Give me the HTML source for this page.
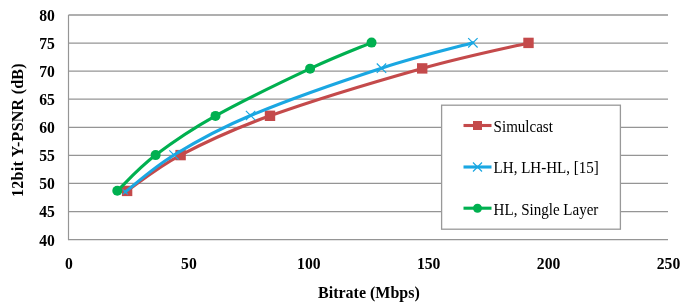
<!DOCTYPE html>
<html><head><meta charset="utf-8"><style>
html,body{margin:0;padding:0;background:#fff;overflow:hidden;}
svg{display:block;}
.tick{font-family:"Liberation Serif",serif;font-weight:bold;font-size:17.6px;fill:#000;}
.title{font-family:"Liberation Serif",serif;font-weight:bold;font-size:16px;fill:#000;}
.leg{font-family:"Liberation Serif",serif;font-size:16px;fill:#000;}
</style></head><body>
<svg width="685" height="308" viewBox="0 0 685 308" style="will-change:transform">
<line x1="68.5" y1="15.00" x2="668" y2="15.00" stroke="#959595" stroke-width="1.3"/>
<line x1="68.5" y1="43.08" x2="668" y2="43.08" stroke="#959595" stroke-width="1.3"/>
<line x1="68.5" y1="71.15" x2="668" y2="71.15" stroke="#959595" stroke-width="1.3"/>
<line x1="68.5" y1="99.22" x2="668" y2="99.22" stroke="#959595" stroke-width="1.3"/>
<line x1="68.5" y1="127.30" x2="668" y2="127.30" stroke="#959595" stroke-width="1.3"/>
<line x1="68.5" y1="155.38" x2="668" y2="155.38" stroke="#959595" stroke-width="1.3"/>
<line x1="68.5" y1="183.45" x2="668" y2="183.45" stroke="#959595" stroke-width="1.3"/>
<line x1="68.5" y1="211.53" x2="668" y2="211.53" stroke="#959595" stroke-width="1.3"/>
<line x1="68.5" y1="239.60" x2="668" y2="239.60" stroke="#959595" stroke-width="1.3"/>
<line x1="68.5" y1="15.0" x2="68.5" y2="240.2" stroke="#959595" stroke-width="1.2"/>

<text transform="translate(54.8,20.95) scale(0.89,1)" text-anchor="end" class="tick">80</text>
<text transform="translate(54.8,49.03) scale(0.89,1)" text-anchor="end" class="tick">75</text>
<text transform="translate(54.8,77.10) scale(0.89,1)" text-anchor="end" class="tick">70</text>
<text transform="translate(54.8,105.17) scale(0.89,1)" text-anchor="end" class="tick">65</text>
<text transform="translate(54.8,133.25) scale(0.89,1)" text-anchor="end" class="tick">60</text>
<text transform="translate(54.8,161.32) scale(0.89,1)" text-anchor="end" class="tick">55</text>
<text transform="translate(54.8,189.40) scale(0.89,1)" text-anchor="end" class="tick">50</text>
<text transform="translate(54.8,217.47) scale(0.89,1)" text-anchor="end" class="tick">45</text>
<text transform="translate(54.8,245.55) scale(0.89,1)" text-anchor="end" class="tick">40</text>

<text transform="translate(69.0,269.4) scale(0.89,1)" text-anchor="middle" class="tick">0</text>
<text transform="translate(188.9,269.4) scale(0.89,1)" text-anchor="middle" class="tick">50</text>
<text transform="translate(308.8,269.4) scale(0.89,1)" text-anchor="middle" class="tick">100</text>
<text transform="translate(428.7,269.4) scale(0.89,1)" text-anchor="middle" class="tick">150</text>
<text transform="translate(548.6,269.4) scale(0.89,1)" text-anchor="middle" class="tick">200</text>
<text transform="translate(668.5,269.4) scale(0.89,1)" text-anchor="middle" class="tick">250</text>

<text x="368.9" y="298" text-anchor="middle" class="title">Bitrate (Mbps)</text>
<text transform="translate(22.8,130) rotate(-90)" text-anchor="middle" class="title" style="letter-spacing:0.25px">12bit Y-PSNR (dB)</text>
<path d="M127.10,190.90 C136.02,184.93 156.78,167.62 180.60,155.10 C204.42,142.58 229.73,130.25 270.00,115.80 C310.27,101.35 379.12,80.55 422.20,68.40 C465.28,56.25 510.78,47.15 528.50,42.90" stroke="#C44A4B" stroke-width="3.1" fill="none" stroke-linecap="round" stroke-linejoin="round"/>
<rect x="121.90" y="185.70" width="10.4" height="10.4" fill="#C44A4B"/><rect x="175.40" y="149.90" width="10.4" height="10.4" fill="#C44A4B"/><rect x="264.80" y="110.60" width="10.4" height="10.4" fill="#C44A4B"/><rect x="417.00" y="63.20" width="10.4" height="10.4" fill="#C44A4B"/><rect x="523.30" y="37.70" width="10.4" height="10.4" fill="#C44A4B"/>
<path d="M125.30,191.90 C133.42,185.75 153.12,167.73 174.00,155.00 C194.88,142.27 216.02,129.97 250.60,115.50 C285.18,101.03 344.45,80.32 381.50,68.20 C418.55,56.08 457.67,47.03 472.90,42.80" stroke="#1AA7E2" stroke-width="3.1" fill="none" stroke-linecap="round" stroke-linejoin="round"/>
<path d="M122.80,189.40 L127.80,194.40 M122.80,194.40 L127.80,189.40" stroke="#1AA7E2" stroke-width="1.2" fill="none"/><path d="M169.30,150.30 L178.70,159.70 M169.30,159.70 L178.70,150.30" stroke="#1AA7E2" stroke-width="1.2" fill="none"/><path d="M245.90,110.80 L255.30,120.20 M245.90,120.20 L255.30,110.80" stroke="#1AA7E2" stroke-width="1.2" fill="none"/><path d="M376.80,63.50 L386.20,72.90 M376.80,72.90 L386.20,63.50" stroke="#1AA7E2" stroke-width="1.2" fill="none"/><path d="M468.20,38.10 L477.60,47.50 M468.20,47.50 L477.60,38.10" stroke="#1AA7E2" stroke-width="1.2" fill="none"/>
<path d="M117.30,190.80 C123.68,184.85 139.23,167.58 155.60,155.10 C171.97,142.62 189.75,130.31 215.50,115.90 C241.25,101.49 284.09,80.87 310.10,68.65 C336.11,56.43 361.31,46.94 371.55,42.60" stroke="#00B050" stroke-width="3.1" fill="none" stroke-linecap="round" stroke-linejoin="round"/>
<circle cx="117.30" cy="190.80" r="5" fill="#00B050"/><circle cx="155.60" cy="155.10" r="5" fill="#00B050"/><circle cx="215.50" cy="115.90" r="5" fill="#00B050"/><circle cx="310.10" cy="68.65" r="5" fill="#00B050"/><circle cx="371.55" cy="42.60" r="5" fill="#00B050"/>

<rect x="441.6" y="105.2" width="178.79999999999995" height="123.99999999999999" fill="#fff" stroke="#999999" stroke-width="1.3"/>
<line x1="463.5" y1="125.5" x2="491.5" y2="125.5" stroke="#C44A4B" stroke-width="3.1"/><rect x="473.00" y="121.00" width="9" height="9" fill="#C44A4B"/><text transform="translate(493.6,131.8) scale(0.94,1)" class="leg">Simulcast</text>
<line x1="463.5" y1="167" x2="491.5" y2="167" stroke="#1AA7E2" stroke-width="3.1"/><path d="M473.00,162.50 L482.00,171.50 M473.00,171.50 L482.00,162.50" stroke="#1AA7E2" stroke-width="1.2" fill="none"/><text transform="translate(493.6,173.3) scale(0.94,1)" class="leg">LH, LH-HL, [15]</text>
<line x1="463.5" y1="208.2" x2="491.5" y2="208.2" stroke="#00B050" stroke-width="3.1"/><circle cx="477.50" cy="208.20" r="4.5" fill="#00B050"/><text transform="translate(493.6,214.5) scale(0.94,1)" class="leg">HL, Single Layer</text>

</svg>
</body></html>
